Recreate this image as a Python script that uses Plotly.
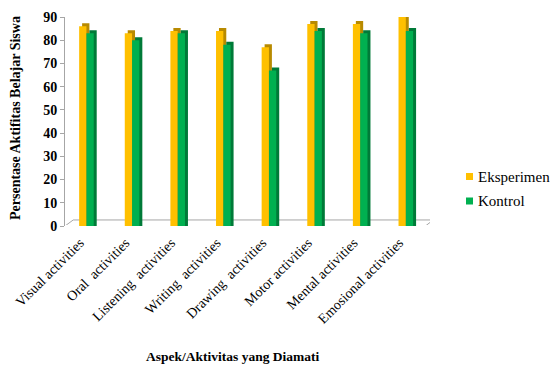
import plotly.graph_objects as go

categories = ["Visual activities", "Oral  activities", "Listening  activities", "Writing  activities",
              "Drawing  activities", "Motor activities", "Mental activities", "Emosional activities"]
eksperimen = [86, 83, 84, 84, 77, 87, 87, 90]
kontrol = [83, 80, 83, 78, 67, 84, 83, 84]
y_ticks = [0, 10, 20, 30, 40, 50, 60, 70, 80, 90]
series_names = ["Eksperimen", "Kontrol"]
front_colors = ["#FFC000", "#00B050"]
side_colors = ["#B88A00", "#007A38"]
x_title = "Aspek/Aktivitas yang Diamati"
y_title = "Persentase Aktifitas Belajar Siswa"

serif = "Liberation Serif"
x = list(range(len(categories)))
fw = 0.16    # front face width
dx = 0.065   # depth offset (x)
dy = 1.3     # depth offset (y)
y_left = -0.19          # left edge of yellow front face
g_left = y_left + fw    # green front starts right after yellow front

fig = go.Figure()
# Eksperimen: depth then front
fig.add_trace(go.Bar(x=x, y=[v + dy for v in eksperimen], width=fw, offset=y_left + dx, cliponaxis=False,
                     marker=dict(color=side_colors[0], line=dict(width=0)), showlegend=False, hoverinfo="skip"))
fig.add_trace(go.Bar(x=x, y=eksperimen, width=fw, offset=y_left, name=series_names[0], cliponaxis=False,
                     marker=dict(color=front_colors[0], line=dict(width=0)), showlegend=False))
# Kontrol: depth then front (in front of Eksperimen's depth)
fig.add_trace(go.Bar(x=x, y=[v + dy for v in kontrol], width=fw, offset=g_left + dx, cliponaxis=False,
                     marker=dict(color=side_colors[1], line=dict(width=0)), showlegend=False, hoverinfo="skip"))
fig.add_trace(go.Bar(x=x, y=kontrol, width=fw, offset=g_left, name=series_names[1], cliponaxis=False,
                     marker=dict(color=front_colors[1], line=dict(width=0)), showlegend=False))

# floor (outline only)
n = len(categories)
fig.add_shape(type="path", xref="x", yref="y", layer="below",
              path=f"M -0.5 0 L -0.32 2.6 L {n-0.43} 2.6 L {n-0.6} 0 Z",
              fillcolor="white", line=dict(color="#A6A6A6", width=1))

# pixel helpers (plot area)
pl, pr, pt, pb = 65, 430, 17, 226
def px_x(p):
    return (p - pl) / (pr - pl)
def px_y(p):
    return (pb - p) / (pb - pt)

# custom legend
for i, (name, col) in enumerate(zip(series_names, front_colors)):
    cy = 176.5 + i * 24.5
    fig.add_shape(type="rect", xref="paper", yref="paper",
                  x0=px_x(466), x1=px_x(473), y0=px_y(cy + 3.5), y1=px_y(cy - 3.5),
                  fillcolor=col, line=dict(width=0))
    fig.add_annotation(xref="paper", yref="paper", x=px_x(476), y=px_y(cy),
                       xanchor="left", yanchor="middle", showarrow=False, text=name,
                       font=dict(family=serif, size=15, color="black"))

# axis titles
fig.add_annotation(xref="paper", yref="paper", x=px_x(233), y=px_y(356),
                   xanchor="center", yanchor="middle", showarrow=False,
                   text=f"<b>{x_title}</b>", font=dict(family=serif, size=13.5, color="black"))
fig.add_annotation(xref="paper", yref="paper", x=px_x(15), y=px_y(118),
                   xanchor="center", yanchor="middle", showarrow=False, textangle=-90,
                   text=f"<b>{y_title}</b>", font=dict(family=serif, size=14, color="black"))

fig.update_layout(
    barmode="overlay",
    width=552, height=365,
    margin=dict(l=pl, r=552 - pr, t=pt, b=365 - pb),
    plot_bgcolor="white", paper_bgcolor="white",
    font=dict(family=serif, color="black"),
    showlegend=False,
    xaxis=dict(tickmode="array", tickvals=x, ticktext=categories, tickangle=-45,
               range=[-0.5, n - 0.5], showline=False, ticks="", showgrid=False,
               automargin=False, ticklabelshift=-8, ticklabelstandoff=5,
               tickfont=dict(family=serif, size=14, color="black")),
    yaxis=dict(range=[0, 90], tickvals=y_ticks, showgrid=False, showline=True,
               automargin=False,
               linecolor="#A6A6A6", ticks="outside", ticklen=4, tickcolor="#A6A6A6",
               tickfont=dict(family=serif, size=14, weight="bold", color="black")),
)

fig.write_html("out.html")
